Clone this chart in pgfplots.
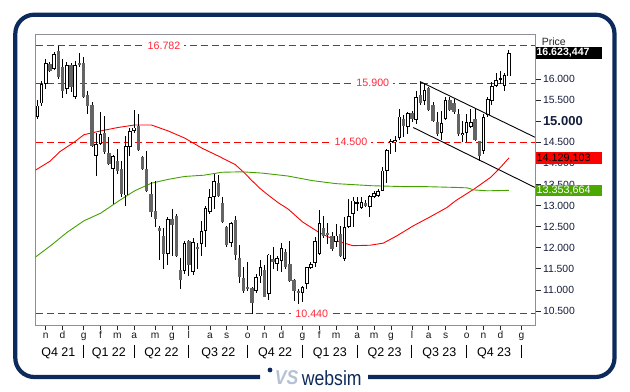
\documentclass[border=0pt]{standalone}
\usepackage{pgfplots}
\pgfplotsset{compat=1.18}
\usepackage{pgfplotstable}
\usepackage{fontspec}
\setmainfont{Liberation Sans}
\definecolor{navy}{HTML}{0C2A5B}
\definecolor{cgray}{HTML}{646464}
\definecolor{magreen}{HTML}{44A000}
\definecolor{boxgreen}{HTML}{4AA800}
\definecolor{lvlred}{HTML}{FF0000}
\definecolor{lbl}{HTML}{FF2A3A}
\definecolor{ticktxt}{HTML}{141C3C}
\definecolor{logolight}{HTML}{B4C2D4}
\definecolor{framegray}{HTML}{8E8E98}

\pgfplotstableread{
i o h l c
0 15.09 15.50 15.05 15.37
1 15.42 15.96 15.37 15.87
2 15.88 16.47 15.76 16.37
3 16.36 16.40 16.16 16.20
4 16.24 16.63 16.21 16.59
5 16.67 16.79 16.00 16.04
6 16.28 16.47 15.56 15.71
7 15.76 16.40 15.64 16.34
8 16.32 16.37 15.68 15.80
9 15.57 16.43 15.53 16.34
10 16.37 16.61 16.29 16.32
11 16.39 16.51 15.56 15.58
12 15.61 15.72 15.17 15.37
13 15.39 15.45 14.38 14.42
14 14.18 14.71 13.71 14.46
15 14.47 15.21 14.44 14.70
16 14.71 15.13 14.22 14.26
17 14.25 14.63 13.95 13.99
18 13.87 14.21 13.04 14.18
19 14.06 14.34 13.75 13.83
20 13.87 14.06 13.20 13.27
21 13.24 14.66 13.00 14.42
22 14.38 14.85 14.18 14.76
23 14.76 15.27 14.71 14.85
24 14.89 15.17 14.29 14.32
25 14.14 14.18 13.84 13.87
26 13.87 14.30 13.31 13.35
27 13.27 13.55 12.72 12.84
28 12.88 13.59 12.50 12.68
29 12.47 12.52 11.70 12.39
30 12.29 12.48 11.50 11.85
31 11.85 12.72 11.58 12.68
32 12.68 12.92 11.81 12.55
33 12.76 12.80 11.79 11.81
34 11.47 11.76 11.02 11.24
35 11.44 12.15 11.39 12.11
36 12.15 12.18 11.34 11.58
37 11.42 12.23 11.36 12.13
38 12.03 12.11 11.50 11.97
39 12.09 12.64 11.81 12.39
40 12.39 13.00 12.03 12.94
41 12.84 13.39 12.80 13.20
42 13.21 13.75 12.92 13.59
43 13.53 13.73 13.20 13.23
44 13.06 13.20 12.58 12.60
45 12.50 12.52 12.01 12.07
46 12.11 12.60 12.01 12.58
47 12.66 12.76 11.70 11.84
48 11.76 12.07 11.16 11.30
49 11.28 11.54 10.92 10.97
50 11.06 11.66 10.98 11.02
51 11.05 11.08 10.43 10.68
52 10.97 11.39 10.94 11.30
53 11.32 11.70 11.16 11.54
54 11.47 11.58 10.83 10.84
55 10.91 11.85 10.76 11.84
56 11.73 12.01 11.50 11.67
57 11.62 11.81 11.44 11.76
58 11.68 12.11 11.42 12.00
59 11.89 11.97 11.50 11.55
60 11.62 12.17 11.18 11.22
61 11.24 11.26 10.75 10.97
62 10.97 11.02 10.67 10.92
63 10.94 11.10 10.71 11.06
64 11.14 11.55 11.02 11.54
65 11.52 11.66 11.50 11.62
66 11.63 12.25 11.54 12.15
67 11.85 12.90 11.84 12.58
68 12.47 12.76 12.23 12.29
69 12.34 12.58 12.09 12.33
70 12.29 12.37 11.92 11.97
71 12.13 12.56 12.01 12.29
72 12.33 12.52 11.79 11.81
73 11.73 12.74 11.68 12.50
74 12.50 13.16 12.48 12.76
75 12.80 13.21 12.50 13.12
76 13.05 13.20 12.88 13.08
77 12.94 13.21 12.92 13.08
78 13.05 13.13 12.96 13.00
79 12.97 13.26 12.72 13.23
80 13.21 13.35 13.18 13.29
81 13.23 13.39 13.21 13.35
82 13.35 13.91 13.34 13.83
83 13.83 14.34 13.53 14.32
84 14.48 14.58 14.22 14.54
85 14.50 14.66 14.26 14.55
86 14.60 15.29 14.55 15.11
87 15.05 15.15 14.62 14.89
88 14.87 15.21 14.70 15.19
89 15.19 15.23 14.99 15.05
90 15.03 15.72 14.93 15.57
91 15.63 15.94 15.39 15.42
92 15.47 15.87 15.39 15.74
93 15.79 15.82 15.23 15.27
94 15.39 15.45 14.97 15.01
95 14.99 15.21 14.66 14.70
96 14.71 15.25 14.55 14.95
97 15.05 15.58 15.03 15.49
98 15.49 15.57 15.23 15.27
99 15.42 15.53 15.17 15.21
100 15.17 15.29 14.66 14.70
101 14.67 15.00 14.50 14.72
102 14.71 15.17 14.50 14.97
103 14.87 15.29 14.84 14.99
104 15.05 15.31 14.52 14.55
105 14.52 14.54 14.06 14.18
106 14.29 15.17 14.22 15.09
107 15.15 15.57 15.11 15.53
108 15.47 15.92 15.39 15.84
109 15.84 16.13 15.82 15.98
110 15.98 16.18 15.88 16.00
111 15.84 16.13 15.71 16.10
112 16.06 16.69 16.06 16.62
}\candles

\begin{document}
\begin{tikzpicture}
\path[use as bounding box] (0,0) rectangle (630bp,392bp);
\begin{axis}[
  at={(35.5bp,67bp)}, anchor=south west,
  scale only axis, width=499.8bp, height=291bp,
  xmin=-0.43, xmax=118.3, ymin=10.17, ymax=17.066,
  clip mode=individual,
  axis line style={draw=framegray, line width=0.8bp},
  xtick={2,6,11,15,19,23,28,32,36,41,45,50,54,58,63,67,71,76,80,84,89,93,97,102,106,110,115},
  xticklabels={n,d,g,f,m,a,m,g,l,a,s,o,n,d,g,f,m,a,m,g,l,a,s,o,n,d,g},
  ytick={10.5,11,11.5,12,12.5,13,13.5,14,14.5,15,15.5,16},
  yticklabels={10.500,11.000,11.500,12.000,12.500,13.000,13.500,14.000,14.500,{\fontsize{13bp}{13bp}\selectfont\bfseries 15.000},15.500,16.000},
  xtick pos=bottom, ytick pos=right, yticklabel pos=right,
  tick align=outside, major tick length=5.5bp,
  tick style={draw=black!85, line width=0.8bp},
  xticklabel style={font=\fontsize{10.2bp}{12bp}\selectfont, text=black!90, anchor=base, inner sep=0pt, yshift=-8.5bp},
  yticklabel style={font=\fontsize{10.4bp}{12bp}\selectfont, text=ticktxt, anchor=west, inner sep=0pt, xshift=2bp},
]
% level lines
\addplot[lvlred, line width=1bp, dash pattern=on 7bp off 4bp] coordinates {(-0.43,16.782) (118.3,16.782)};
\addplot[lvlred, line width=1bp, dash pattern=on 7bp off 4bp] coordinates {(-0.43,15.9) (118.3,15.9)};
\addplot[lvlred, line width=1bp, dash pattern=on 7bp off 4bp] coordinates {(-0.43,14.5) (118.3,14.5)};
\addplot[lvlred, line width=1bp, dash pattern=on 7bp off 4bp] coordinates {(-0.43,10.44) (118.3,10.44)};
\node[fill=white, text=lbl, inner xsep=4bp, inner ysep=1bp, font=\fontsize{10.7bp}{12bp}\selectfont] at (axis cs:30.1,16.782) {16.782};
\node[fill=white, text=lbl, inner xsep=4bp, inner ysep=1bp, font=\fontsize{10.7bp}{12bp}\selectfont] at (axis cs:79.7,15.9) {15.900};
\node[fill=white, text=lbl, inner xsep=4bp, inner ysep=1bp, font=\fontsize{10.7bp}{12bp}\selectfont] at (axis cs:74.5,14.5) {14.500};
\node[fill=white, text=lbl, inner xsep=4bp, inner ysep=1bp, font=\fontsize{10.7bp}{12bp}\selectfont] at (axis cs:65.2,10.44) {10.440};
% moving averages
\addplot[lvlred, line width=0.9bp] coordinates {
(-0.43,13.84) (3.0,14.05) (5.4,14.28) (8.72,14.50) (11.1,14.68) (15.06,14.77)
(19.17,14.85) (23.14,14.91) (27.08,14.91) (31.05,14.77) (35.01,14.60) (39.12,14.36)
(43.09,14.17) (47.03,13.97) (49.03,13.79) (51.0,13.59) (52.97,13.40) (54.96,13.24)
(57.34,13.06) (59.55,12.92) (63.04,12.61) (66.98,12.36) (70.95,12.17) (74.92,12.05)
(79.03,12.06) (82.19,12.11) (85.37,12.28) (89.31,12.52) (93.28,12.73) (97.25,12.95)
(99.45,13.12) (103.73,13.39) (107.7,13.67) (110.07,13.91) (112.04,14.13)};
\addplot[magreen, line width=0.9bp] coordinates {
(-0.43,11.78) (3.18,12.05) (7.13,12.37) (11.09,12.64) (15.06,12.82) (19.64,13.13)
(23.14,13.35) (27.08,13.53) (31.05,13.62) (35.01,13.69) (39.6,13.72) (43.87,13.79)
(48.62,13.80) (53.37,13.77) (59.55,13.70) (65.42,13.59) (70.95,13.52) (79.5,13.47)
(86.94,13.45) (91.69,13.45) (99.45,13.43) (102.14,13.42) (103.73,13.37) (106.89,13.35)
(112.04,13.36)};
% wicks
\addplot[draw=none, mark=none, forget plot, error bars/.cd, y dir=both, y explicit, error mark=none,
  error bar style={draw=black, line width=0.9bp}]
  table[x=i, y expr={(\thisrow{h}+\thisrow{l})/2}, y error expr={(\thisrow{h}-\thisrow{l})/2}] {\candles};
% falling bodies
\addplot[draw=none, mark=none, forget plot, error bars/.cd, y dir=both, y explicit, error mark=none,
  error bar style={draw=cgray, line width=3.3bp}]
  table[x=i, y expr={\thisrow{c}<\thisrow{o} ? (\thisrow{o}+\thisrow{c})/2 : 1},
        y error expr={\thisrow{c}<\thisrow{o} ? max((\thisrow{o}-\thisrow{c})/2,0.018) : 0}] {\candles};
% rising bodies: outline
\addplot[draw=none, mark=none, forget plot, error bars/.cd, y dir=both, y explicit, error mark=none,
  error bar style={draw=black, line width=3.6bp}]
  table[x=i, y expr={\thisrow{c}<\thisrow{o} ? 1 : (\thisrow{o}+\thisrow{c})/2},
        y error expr={\thisrow{c}<\thisrow{o} ? 0 : max((\thisrow{c}-\thisrow{o})/2,0.024)}] {\candles};
% rising bodies: white inside
\addplot[draw=none, mark=none, forget plot, error bars/.cd, y dir=both, y explicit, error mark=none,
  error bar style={draw=white, line width=1.6bp}]
  table[x=i, y expr={\thisrow{c}<\thisrow{o} ? 1 : (\thisrow{o}+\thisrow{c})/2},
        y error expr={\thisrow{c}<\thisrow{o} ? 0 : max((\thisrow{c}-\thisrow{o})/2-0.022,0)}] {\candles};
% channel
\addplot[black, line width=0.9bp] coordinates {(90.9,15.94) (118.2,14.62)};
\addplot[black, line width=0.9bp] coordinates {(89.3,14.85) (118.2,13.43)};
% quarter labels
\foreach \q/\lab in {5/Q4 21,17/Q1 22,29.5/Q2 22,43/Q3 22,56.5/Q4 22,69.5/Q1 23,82.5/Q2 23,95.5/Q3 23,108.5/Q4 23}{
  \edef\temp{\noexpand\node[anchor=base, inner sep=0pt, text=black, font=\noexpand\fontsize{12.5bp}{14bp}\noexpand\selectfont] at ([yshift=-31.5bp]axis cs:\q,10.17) {\lab};}
  \temp
}
\foreach \s in {11,23,36,50,63,76,89,102,115}{
  \edef\temp{\noexpand\draw[black, line width=1bp] ([yshift=-20bp]axis cs:\s,10.17) -- ([yshift=-33bp]axis cs:\s,10.17);}
  \temp
}
\coordinate (pc) at (axis cs:118.3,16.6234);
\coordinate (pr) at (axis cs:118.3,14.1291);
\coordinate (pg) at (axis cs:118.3,13.3537);
\end{axis}
% right side price boxes
\begin{scope}[x=1bp,y=1bp]
\node[anchor=west, inner sep=0pt, text=black!85, font=\fontsize{10.5bp}{12bp}\selectfont] at (541.7,337) {USD};
\node[anchor=west, inner sep=0pt, text=black!85, font=\fontsize{10.5bp}{12bp}\selectfont] at (541.7,350.3) {Price};
\end{scope}
\node[anchor=west, fill=black, text=white, inner xsep=1bp, inner ysep=0pt, minimum height=11.7bp, text width=64bp, align=left, font=\fontsize{10.6bp}{12bp}\selectfont\bfseries] at (pc) {16.623,447};
\node[anchor=west, fill=lvlred, text=black, inner xsep=1bp, inner ysep=0pt, minimum height=11.7bp, text width=64bp, align=left, font=\fontsize{10.8bp}{12bp}\selectfont] at (pr) {14.129,103};
\node[anchor=west, fill=boxgreen, text=white, inner xsep=1bp, inner ysep=0pt, minimum height=11.7bp, text width=64bp, align=left, font=\fontsize{10.8bp}{12bp}\selectfont] at (pg) {13.353,664};
% frame and logo
\begin{scope}[x=1bp,y=1bp]
\draw[navy, line width=4.2bp, rounded corners=19bp] (260,15) -- (15.3,15) -- (15.3,377.3) -- (614.5,377.3) -- (614.5,15) -- (368,15);
\fill[navy] (270,22) circle (2.4);
\node[text=logolight, inner sep=0pt, font=\fontsize{20bp}{20bp}\selectfont\bfseries\itshape] at (286.5,14.5) {\scalebox{0.88}[1]{VS}};
\node[anchor=base west, text=navy, inner sep=0pt] at (301.7,7) {\fontsize{20.5bp}{21bp}\selectfont\scalebox{0.86}[1]{websim}};
\end{scope}
\end{tikzpicture}
\end{document}
